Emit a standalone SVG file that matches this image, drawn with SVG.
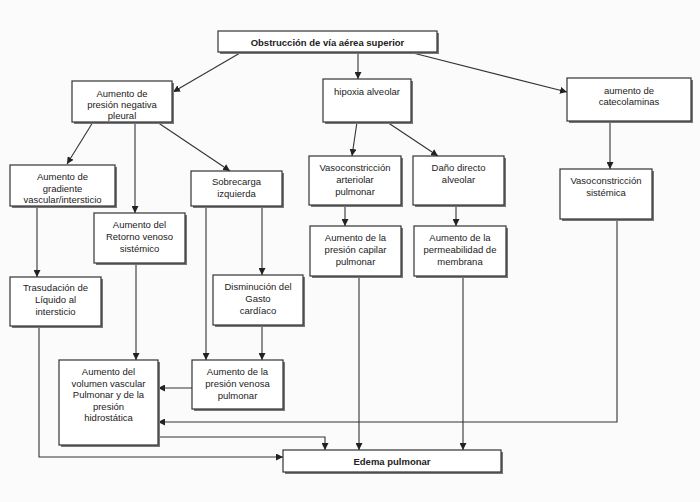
<svg xmlns="http://www.w3.org/2000/svg" width="700" height="502" viewBox="0 0 700 502">
<defs>
<marker id="ah" viewBox="0 0 10 10" refX="10" refY="5" markerWidth="7" markerHeight="7" orient="auto" markerUnits="userSpaceOnUse">
<path d="M0,0 L10,5 L0,10 z" fill="#222"/>
</marker>
</defs>
<style>
.box{fill:#fff;stroke:#333;stroke-width:1.2}
.sh{fill:#777}
text{font-family:"Liberation Sans",Arial,sans-serif;font-size:9.5px;fill:#222;text-anchor:middle}
.b{font-weight:bold;font-size:9.5px}
.c{fill:none;stroke:#333;stroke-width:1.1;marker-end:url(#ah)}
.n{fill:none;stroke:#333;stroke-width:1.1}
</style>
<rect width="700" height="502" fill="#fbfbfb"/>

<g id="connectors">
<path class="c" d="M240,53 L173,92"/>
<path class="c" d="M358,53 L358,79"/>
<path class="c" d="M413,53 L567,92"/>
<path class="c" d="M93,122 L67,164"/>
<path class="c" d="M135,122 L135,213"/>
<path class="c" d="M157,122 L230,171"/>
<path class="c" d="M357,122 L352,156"/>
<path class="c" d="M387,122 L438,156"/>
<path class="c" d="M610,121 L610,169"/>
<path class="c" d="M345,205 L345,226"/>
<path class="c" d="M456,205 L456,226"/>
<path class="c" d="M37,206 L37,277"/>
<path class="c" d="M262,206 L262,275"/>
<path class="c" d="M206,206 L206,360"/>
<path class="c" d="M262,325 L262,360"/>
<path class="c" d="M136,263 L136,360"/>
<path class="c" d="M192,388 L158,388"/>
<path class="c" d="M617,219 L617,422 L158,422"/>
<path class="c" d="M158,437 L325,437 L325,450"/>
<path class="c" d="M39,326 L39,457 L283,457"/>
<path class="c" d="M359,276 L359,450"/>
<path class="c" d="M463,276 L463,450"/>
</g>

<g id="n-obstruccion">
<rect class="sh" x="220" y="33" width="219" height="21"/>
<rect class="box" x="218" y="31" width="219" height="21"/>
<text class="b" x="327.5" y="45.5">Obstrucción de vía aérea superior</text>
</g>

<g id="n-pleural">
<rect class="sh" x="74" y="83" width="100" height="41"/>
<rect class="box" x="72" y="81" width="100" height="41"/>
<text x="122" y="97">Aumento de</text>
<text x="122" y="108">presión negativa</text>
<text x="122" y="119">pleural</text>
</g>

<g id="n-hipoxia">
<rect class="sh" x="325" y="81" width="88" height="43"/>
<rect class="box" x="323" y="79" width="88" height="43"/>
<text x="367" y="95">hipoxia alveolar</text>
</g>

<g id="n-catecolaminas">
<rect class="sh" x="569" y="80" width="124" height="43"/>
<rect class="box" x="567" y="78" width="124" height="43"/>
<text x="629" y="94">aumento de</text>
<text x="629" y="105">catecolaminas</text>
</g>

<g id="n-vasoarteriolar">
<rect class="sh" x="311" y="158" width="92" height="49"/>
<rect class="box" x="309" y="156" width="92" height="49"/>
<text x="355" y="171">Vasoconstricción</text>
<text x="355" y="183">arteriolar</text>
<text x="355" y="195">pulmonar</text>
</g>

<g id="n-dano">
<rect class="sh" x="415" y="158" width="91" height="49"/>
<rect class="box" x="413" y="156" width="91" height="49"/>
<text x="458.5" y="171">Daño directo</text>
<text x="458.5" y="183">alveolar</text>
</g>

<g id="n-vasosistemica">
<rect class="sh" x="562" y="171" width="92" height="50"/>
<rect class="box" x="560" y="169" width="92" height="50"/>
<text x="606" y="184">Vasoconstricción</text>
<text x="606" y="196">sistémica</text>
</g>

<g id="n-capilar">
<rect class="sh" x="312" y="228" width="91" height="50"/>
<rect class="box" x="310" y="226" width="91" height="50"/>
<text x="355.5" y="241">Aumento de la</text>
<text x="355.5" y="253">presión capilar</text>
<text x="355.5" y="265">pulmonar</text>
</g>

<g id="n-permeabilidad">
<rect class="sh" x="416" y="228" width="92" height="50"/>
<rect class="box" x="414" y="226" width="92" height="50"/>
<text x="460" y="241">Aumento de la</text>
<text x="460" y="253">permeabilidad de</text>
<text x="460" y="265">membrana</text>
</g>

<g id="n-gradiente">
<rect class="sh" x="12" y="167" width="105" height="41"/>
<rect class="box" x="10" y="165" width="105" height="41"/>
<text x="62.5" y="180">Aumento de</text>
<text x="62.5" y="191.5">gradiente</text>
<text x="62.5" y="203">vascular/intersticio</text>
</g>

<g id="n-sobrecarga">
<rect class="sh" x="193" y="173" width="91" height="35"/>
<rect class="box" x="191" y="171" width="91" height="35"/>
<text x="236.5" y="185">Sobrecarga</text>
<text x="236.5" y="196.5">izquierda</text>
</g>

<g id="n-retorno">
<rect class="sh" x="96" y="215" width="91" height="50"/>
<rect class="box" x="94" y="213" width="91" height="50"/>
<text x="139.5" y="228">Aumento del</text>
<text x="139.5" y="240">Retorno venoso</text>
<text x="139.5" y="251.5">sistémico</text>
</g>

<g id="n-trasudacion">
<rect class="sh" x="12" y="279" width="91" height="49"/>
<rect class="box" x="10" y="277" width="91" height="49"/>
<text x="55.5" y="291">Trasudación de</text>
<text x="55.5" y="303">Líquido al</text>
<text x="55.5" y="315">intersticio</text>
</g>

<g id="n-disminucion">
<rect class="sh" x="215" y="277" width="90" height="50"/>
<rect class="box" x="213" y="275" width="90" height="50"/>
<text x="258" y="290">Disminución del</text>
<text x="258" y="302">Gasto</text>
<text x="258" y="314">cardíaco</text>
</g>

<g id="n-volumen">
<rect class="sh" x="61" y="362" width="99" height="85"/>
<rect class="box" x="59" y="360" width="99" height="85"/>
<text x="108.5" y="375">Aumento del</text>
<text x="108.5" y="386.5">volumen vascular</text>
<text x="108.5" y="398">Pulmonar y de la</text>
<text x="108.5" y="409.5">presión</text>
<text x="108.5" y="421">hidrostática</text>
</g>

<g id="n-venosa">
<rect class="sh" x="194" y="362" width="91" height="49"/>
<rect class="box" x="192" y="360" width="91" height="49"/>
<text x="237.5" y="375">Aumento de la</text>
<text x="237.5" y="387">presión venosa</text>
<text x="237.5" y="398.5">pulmonar</text>
</g>

<g id="n-edema">
<rect class="sh" x="285" y="452" width="218" height="22"/>
<rect class="box" x="283" y="450" width="218" height="22"/>
<text class="b" x="392" y="464.5">Edema pulmonar</text>
</g>
</svg>
